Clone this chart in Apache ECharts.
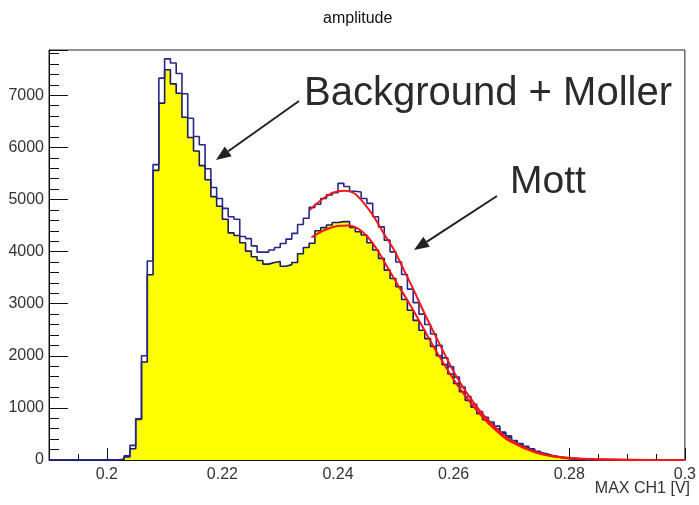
<!DOCTYPE html>
<html>
<head>
<meta charset="utf-8">
<title>amplitude</title>
<script src="https://cdn.jsdelivr.net/npm/echarts@6/dist/echarts.min.js"></script>
<style>
  html, body { margin: 0; padding: 0; background: #fff; }
  #chart { width: 699px; height: 505px; }
</style>
</head>
<body>
<div id="chart"></div>
<script>
// ROOT-style "amplitude" histogram: all events (Background + Moller, open
// navy outline) over the Mott-selected spectrum (yellow), each with a fit
// curve drawn on the second (Mott) peak.

const X_MIN = 0.19;
const X_MAX = 0.30;
const Y_MAX = 7870;
const BIN_W = 0.001;
const FIRST_BIN = 0.201; // left edge of first non-empty bin

const X_TICKS = [0.2, 0.22, 0.24, 0.26, 0.28, 0.3];
const Y_TICKS = [0, 1000, 2000, 3000, 4000, 5000, 6000, 7000];

// counts per 1 mV bin, starting at FIRST_BIN
const COUNTS_ALL = [
  5, 20, 80, 280, 790, 2000, 3820, 5670, 7330,
  7700, 7620, 7420, 7030, 6560, 6210, 6050, 5590, 5230, 5020,
  4830, 4670, 4620, 4290, 4250, 4110, 3990, 3990, 4030, 4080,
  4155, 4240, 4350, 4520, 4640, 4850, 4910, 5020, 5090, 5130,
  5310, 5250, 5160, 5145, 5020, 4925, 4670, 4475, 4220, 3995,
  3800, 3560, 3280, 3020, 2800, 2600, 2420, 2200, 1960, 1790,
  1590, 1400, 1220, 1070, 930, 820, 730, 650, 535, 465,
  375, 315, 262, 215, 165, 125, 90, 65, 45, 30,
  20, 13, 8, 5, 3, 2, 1, 1,
];

const COUNTS_MOTT = [
  2, 10, 60, 215, 780, 1880, 3555, 5560, 6850,
  7490, 7220, 7040, 6580, 6190, 5930, 5650, 5380, 5055, 4870,
  4620, 4360, 4310, 4170, 4010, 3900, 3830, 3760, 3790, 3810,
  3720, 3750, 3790, 3960, 4080, 4160, 4400, 4460, 4510, 4560,
  4575, 4575, 4465, 4380, 4320, 4170, 4030, 3870, 3645, 3485,
  3325, 3080, 2875, 2680, 2490, 2330, 2180, 2000, 1830, 1650,
  1470, 1310, 1145, 1015, 890, 775, 690, 600, 515, 440,
  365, 300, 245, 195, 150, 115, 82, 60, 40, 27,
  18, 12, 7, 4, 3, 2, 1, 0,
];

// fit curves
const FIT_ALL_X = [0.2351, 0.2371, 0.2391, 0.2411, 0.2428, 0.2445, 0.2462, 0.2479, 0.2497, 0.2514, 0.2531,
  0.2548, 0.2571, 0.2605, 0.2640, 0.2670, 0.2697, 0.2743, 0.2788, 0.2868, 0.3000];
const FIT_ALL_Y = [4800, 4990, 5130, 5170, 5120, 4925, 4670, 4350, 4030, 3645, 3260,
  2850, 2330, 1600, 1020, 650, 390, 150, 55, 10, 0];

const FIT_MOTT_X = [0.2354, 0.2377, 0.2399, 0.2417, 0.2434, 0.2451, 0.2468, 0.2485, 0.2502, 0.2520, 0.2537,
  0.2554, 0.2571, 0.2605, 0.2640, 0.2670, 0.2697, 0.2743, 0.2788, 0.2868, 0.3000];
const FIT_MOTT_Y = [4275, 4415, 4490, 4500, 4445, 4285, 4030, 3710, 3390, 3065, 2740,
  2400, 2070, 1460, 950, 600, 360, 140, 50, 8, 0];

const FONT = '"Liberation Sans", Arial, Helvetica, sans-serif';
const TICK_COLOR = "#111";
const LABEL_COLOR = "#333";

// bin counts -> step points (left edges), padded with zeros to the frame
function histPoints(counts) {
  const pts = [[X_MIN, 0]];
  counts.forEach((c, i) => pts.push([+(FIRST_BIN + i * BIN_W).toFixed(4), c]));
  pts.push([+(FIRST_BIN + counts.length * BIN_W).toFixed(4), 0]);
  pts.push([X_MAX, 0]);
  return pts;
}

function zip(xs, ys) {
  return xs.map((x, i) => [x, ys[i]]);
}

function arrow(x1, y1, x2, y2) {
  const len = Math.hypot(x2 - x1, y2 - y1);
  const ux = (x2 - x1) / len;
  const uy = (y2 - y1) / len;
  const hl = 15, hw = 6;
  const bx = x2 - ux * hl;
  const by = y2 - uy * hl;
  return [
    { type: "line", shape: { x1, y1, x2: bx, y2: by }, style: { stroke: "#222", lineWidth: 2 } },
    {
      type: "polygon",
      shape: { points: [[x2, y2], [bx - uy * hw, by + ux * hw], [bx + uy * hw, by - ux * hw]] },
      style: { fill: "#222" },
    },
  ];
}

const chart = echarts.init(document.getElementById("chart"), null, { renderer: "canvas" });

// x: no fixed interval, so the nice 0.02 steps land on 0.2, 0.22, ... even
// though the frame starts at 0.19; minor ticks split each step in four.
chart.setOption({
  animation: false,
  backgroundColor: "#fff",
  title: {
    text: "amplitude",
    left: 318,
    top: 6,
    textStyle: { fontFamily: FONT, fontSize: 16, fontWeight: "normal", color: "#111" },
  },
  grid: {
    left: 49, right: 9, top: 50, bottom: 45,
    show: true, borderColor: "#222", borderWidth: 1, backgroundColor: "#fff",
  },
  xAxis: {
    type: "value", min: X_MIN, max: X_MAX, splitNumber: 5, position: "bottom",
    axisLine: { show: true, onZero: false, lineStyle: { color: TICK_COLOR, width: 1 } },
    axisTick: { show: true, inside: true, length: 12, lineStyle: { color: TICK_COLOR, width: 1 } },
    minorTick: { show: true, splitNumber: 4, length: 6, lineStyle: { color: TICK_COLOR, width: 1 } },
    axisLabel: {
      customValues: X_TICKS, margin: 7, fontSize: 16, color: LABEL_COLOR, fontFamily: FONT,
      formatter: (v) => String(+v.toFixed(3)),
    },
    splitLine: { show: false },
    minorSplitLine: { show: false },
  },
  yAxis: {
    type: "value", min: 0, max: Y_MAX, interval: 1000, position: "left",
    axisLine: { show: true, onZero: false, lineStyle: { color: TICK_COLOR, width: 1 } },
    axisTick: { show: true, inside: true, length: 19, lineStyle: { color: TICK_COLOR, width: 1 } },
    minorTick: { show: true, splitNumber: 5, length: 10, lineStyle: { color: TICK_COLOR, width: 1 } },
    axisLabel: {
      customValues: Y_TICKS, margin: 5, fontSize: 16, color: LABEL_COLOR, fontFamily: FONT,
      formatter: (v) => String(Math.round(v)),
    },
    splitLine: { show: false },
    minorSplitLine: { show: false },
  },
  series: [
    {
      name: "Mott",
      type: "line",
      step: "end",
      data: histPoints(COUNTS_MOTT),
      showSymbol: false,
      lineStyle: { color: "#1c1c5e", width: 1.6 },
      areaStyle: { color: "#ffff00", opacity: 1 },
      z: 2,
    },
    {
      name: "Background + Moller",
      type: "line",
      step: "end",
      data: histPoints(COUNTS_ALL),
      showSymbol: false,
      lineStyle: { color: "#26268c", width: 1.6 },
      z: 3,
    },
    {
      name: "fit all",
      type: "line",
      data: zip(FIT_ALL_X, FIT_ALL_Y),
      smooth: 0.3,
      showSymbol: false,
      lineStyle: { color: "#f01818", width: 2 },
      z: 4,
    },
    {
      name: "fit Mott",
      type: "line",
      data: zip(FIT_MOTT_X, FIT_MOTT_Y),
      smooth: 0.3,
      showSymbol: false,
      lineStyle: { color: "#f01818", width: 2 },
      z: 4,
    },
  ],
  graphic: [
    {
      type: "text", left: 304, top: 74,
      style: { text: "Background + Moller", fontFamily: FONT, fontSize: 40, fill: "#2a2a2a" },
    },
    {
      type: "text", left: 510, top: 163,
      style: { text: "Mott", fontFamily: FONT, fontSize: 39, fill: "#2a2a2a" },
    },
    {
      type: "text", right: 9, top: 481,
      style: { text: "MAX CH1 [V]", fontFamily: FONT, fontSize: 16, fill: LABEL_COLOR },
    },
    ...arrow(299, 101, 216, 160),
    ...arrow(497, 196, 414, 250),
  ],
});
</script>
</body>
</html>
